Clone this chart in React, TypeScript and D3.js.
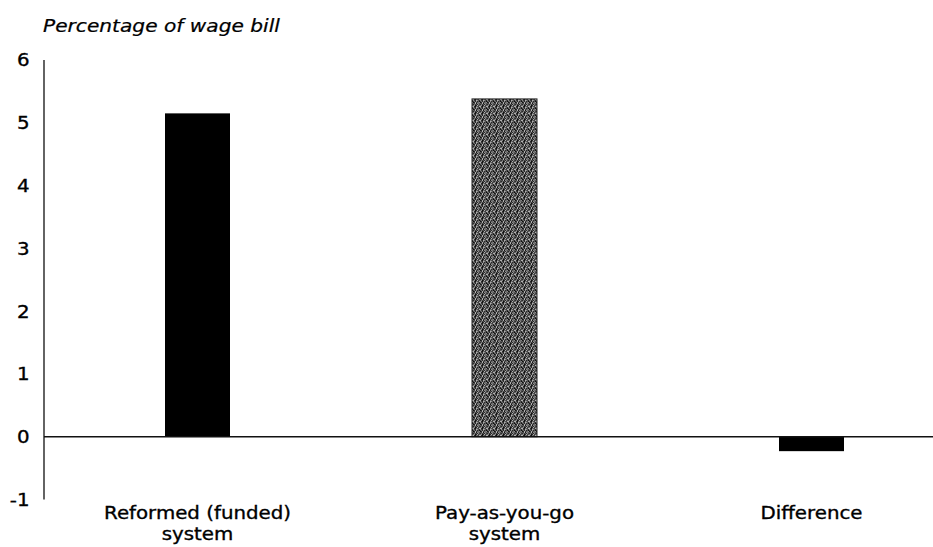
import React from "react";
import * as d3 from "d3";

// Contribution rates, % of wage bill
const categories = ["Reformed (funded)\nsystem", "Pay-as-you-go\nsystem", "Difference"];
const values = [5.15, 5.38, -0.23];
const barFills = ["#000000", "url(#dither)", "#000000"];
const yTicks = [-1, 0, 1, 2, 3, 4, 5, 6];
const yTitle = "Percentage of wage bill";

const W = 933;
const H = 547;
const FONT = "'DejaVu Sans', 'Noto Sans', sans-serif";
const SX = 1.1; // horizontal widening of the lettering
const INK = { fill: "#000", stroke: "#000", strokeWidth: 0.35 };

export default function App() {
  const x = d3.scaleBand<string>().domain(categories).range([44, 965]).paddingInner(0).paddingOuter(0);
  const y = d3.scaleLinear().domain([-1, 6]).range([499.5, 60]);
  const barW = 65;

  // dithered grey tile for the pay-as-you-go bar
  const tile: [number, number, string][] = [];
  const greys = ["#2a2a2a", "#8a8a8a", "#555555", "#b0b0b0", "#111111", "#707070", "#404040"];
  for (let i = 0; i < 7; i++) {
    for (let j = 0; j < 7; j++) {
      tile.push([i, j, greys[(i * 3 + j * 5 + (i * j) % 4) % greys.length]]);
    }
  }

  return (
    <svg width={W} height={H} style={{ position: "absolute", left: 0, top: 0, background: "#fff" }}>
      <defs>
        <pattern id="dither" width={7} height={7} patternUnits="userSpaceOnUse">
          {tile.map(([i, j, c], k) => (
            <rect key={k} x={i} y={j} width={1} height={1} fill={c} />
          ))}
        </pattern>
      </defs>

      <text
        transform={`translate(43,32) scale(1.12,1)`}
        fontFamily={FONT}
        fontStyle="italic"
        fontSize={18}
        {...INK}
        strokeWidth={0.25}
      >
        {yTitle}
      </text>

      {/* y axis */}
      <line x1={44} x2={44} y1={y(6)} y2={y(-1)} stroke="#222" strokeWidth={1.4} />
      {yTicks.map((t) => (
        <text
          key={t}
          transform={`translate(29.5,${y(t)}) scale(${SX},1)`}
          dy="0.36em"
          textAnchor="end"
          fontFamily={FONT}
          fontSize={18}
          {...INK}
        >
          {t}
        </text>
      ))}

      {/* bars */}
      {categories.map((c, i) => {
        const cx = (x(c) ?? 0) + x.bandwidth() / 2;
        const v = values[i];
        return (
          <rect
            key={c}
            x={cx - barW / 2}
            y={y(Math.max(0, v))}
            width={barW}
            height={Math.abs(y(v) - y(0))}
            fill={barFills[i]}
            stroke={i === 1 ? "#222" : "none"}
            strokeWidth={i === 1 ? 1 : 0}
          />
        );
      })}

      {/* zero line */}
      <line x1={44} x2={W} y1={y(0)} y2={y(0)} stroke="#111" strokeWidth={1.5} />

      {/* category labels */}
      {categories.map((c) => {
        const cx = (x(c) ?? 0) + x.bandwidth() / 2;
        return (
          <text
            key={c}
            transform={`translate(${cx},519) scale(${SX},1)`}
            textAnchor="middle"
            fontFamily={FONT}
            fontSize={18}
            {...INK}
          >
            {c.split("\n").map((line, k) => (
              <tspan key={k} x={0} dy={k === 0 ? 0 : 21}>
                {line}
              </tspan>
            ))}
          </text>
        );
      })}
    </svg>
  );
}
